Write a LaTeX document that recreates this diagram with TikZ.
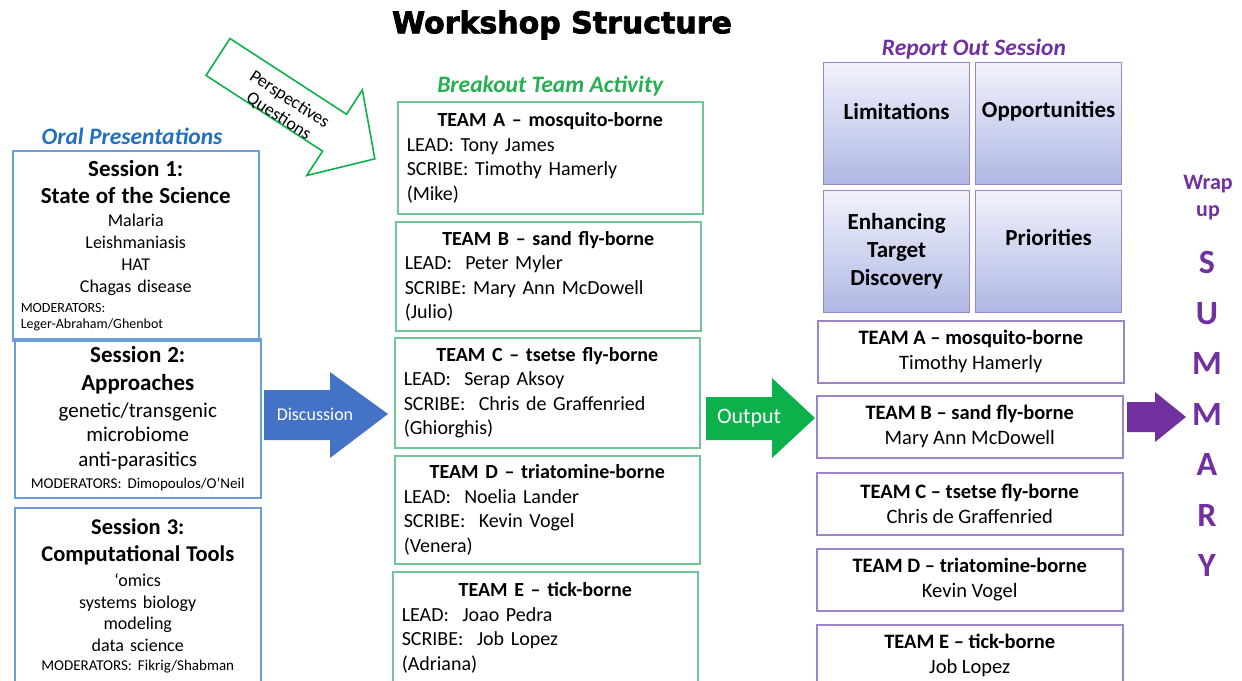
\documentclass[tikz,border=0pt]{standalone}
\usepackage{fontspec}
\setmainfont{Carlito}
\newfontfamily\titlefont[BoldFeatures={FakeBold=2.5}]{DejaVu Sans}
\usetikzlibrary{positioning,calc}
\definecolor{sesblue}{HTML}{6A9FD6}
\definecolor{oralblue}{HTML}{2170C0}
\definecolor{discblue}{HTML}{4472C4}
\definecolor{teamgreen}{HTML}{72C596}
\definecolor{brkgreen}{HTML}{24B050}
\definecolor{outgreen}{HTML}{0DB14B}
\definecolor{rptpurple}{HTML}{7030A0}
\definecolor{rptline}{HTML}{9D85C9}
\definecolor{quadtop}{HTML}{F1F2FB}
\definecolor{quadbot}{HTML}{AEB8E4}
\tikzset{
  sess/.style={draw=sesblue,line width=1.5pt,anchor=north west,inner xsep=5pt,inner ysep=0pt,align=center,text width=236pt,font=\fontsize{18}{22}\selectfont},
  team/.style={draw=teamgreen,line width=1.5pt,anchor=north west,inner xsep=9pt,inner ysep=0pt,align=left,text width=287pt,font=\fontsize{20}{24.5}\selectfont},
  rteam/.style={draw=rptline,line width=1.5pt,anchor=north west,align=center,minimum width=306pt,minimum height=62pt,font=\fontsize{20.5}{25}\selectfont},
  quad/.style={draw=rptline,line width=1.2pt,anchor=north west,top color=quadtop,bottom color=quadbot,minimum width=146pt,minimum height=122pt},
  qtxt/.style={font=\fontsize{23}{28}\selectfont\bfseries,align=center},
  head/.style={font=\fontsize{23.5}{26}\selectfont\bfseries\itshape},
  arrtxt/.style={text=white,font=\fontsize{18}{20}\selectfont},
}
\begin{document}
\begin{tikzpicture}[x=1pt,y=-1pt]
\useasboundingbox (0,0) rectangle (1242,680);
\node[font=\titlefont\bfseries\fontsize{30}{36}\selectfont] (title) at (562,25) {Workshop Structure};

% oral presentations
\node[sess,minimum height=190pt] (s1) at (12,150) {{\fontsize{23}{22}\selectfont\bfseries Session 1:}\\[5pt]
  {\fontsize{23}{22}\selectfont\bfseries State of the Science}\\[1pt]
  Malaria\\Leishmaniasis\\HAT\\Chagas disease\\[-2pt]
  \makebox[\hsize][l]{\hspace{3pt}\fontsize{14}{15}\selectfont MODERATORS:}\\[-6pt]
  \makebox[\hsize][l]{\hspace{3pt}\fontsize{14}{15}\selectfont Leger-Abraham/Ghenbot}};
\node[sess,minimum height=159pt] (s2) at (14,338) {{\fontsize{23}{22}\selectfont\bfseries Session 2:}\\[6pt]
  {\fontsize{23}{22}\selectfont\bfseries Approaches}\\[5pt]
  {\fontsize{21}{22}\selectfont genetic/transgenic}\\[2pt]
  {\fontsize{21}{22}\selectfont microbiome}\\[3pt]
  {\fontsize{21}{22}\selectfont anti-parasitics}\\[0pt]
  {\fontsize{15}{15}\selectfont MODERATORS: Dimopoulos/O’Neil}};
\node[sess,minimum height=177pt] (s3) at (14,507) {{\fontsize{22.5}{22}\selectfont\bfseries Session 3:}\\[5pt]
  {\fontsize{22.5}{22}\selectfont\bfseries Computational Tools}\\[3pt]
  ‘omics\\[0pt]systems biology\\[-1pt]modeling\\[0pt]data science\\[-3pt]
  {\fontsize{15}{15}\selectfont MODERATORS: Fikrig/Shabman}};
\node[head,text=oralblue] (oral) at (132,136) {Oral Presentations};

% breakout teams
\node[team,minimum height=112pt] (ta) at (397,101) {\makebox[\hsize]{\bfseries TEAM A – mosquito-borne}\\LEAD: Tony James\\SCRIBE: Timothy Hamerly\\(Mike)};
\node[team,minimum height=109pt] (tb) at (395,221) {\makebox[\hsize]{\bfseries TEAM B – sand fly-borne}\\LEAD:\ \ Peter Myler\\SCRIBE: Mary Ann McDowell\\(Julio)};
\node[team,minimum height=110pt] (tc) at (394,337) {\makebox[\hsize]{\bfseries TEAM C – tsetse fly-borne}\\LEAD:\ \ Serap Aksoy\\SCRIBE:\ \ Chris de Graffenried\\(Ghiorghis)};
\node[team,minimum height=108pt] (td) at (394,455) {\makebox[\hsize]{\bfseries TEAM D – triatomine-borne}\\LEAD:\ \ Noelia Lander\\SCRIBE:\ \ Kevin Vogel\\(Venera)};
\node[team,minimum height=112pt] (te) at (392,571) {\makebox[\hsize]{\bfseries TEAM E – tick-borne}\\LEAD:\ \ Joao Pedra\\SCRIBE:\ \ Job Lopez\\(Adriana)};
\node[head,text=brkgreen,above=1pt of ta] (brk) {Breakout Team Activity};

% report out
\node[quad] (lim) at (823,62) {};
\node[quad] (opp) at (975,62) {};
\node[quad] (enh) at (823,190) {};
\node[quad] (pri) at (975,190) {};
\node[qtxt,yshift=12pt] (limt) at (lim.center) {Limitations};
\node[qtxt,yshift=12pt] (oppt) at (opp.center) {Opportunities};
\node[qtxt] (enht) at (enh.center) {Enhancing\\Target\\Discovery};
\node[qtxt,yshift=14pt] (prit) at (pri.center) {Priorities};
\node[head,text=rptpurple] (rpt) at (974,49) {Report Out Session};

\node[rteam] (ra) at (817,320) {\textbf{TEAM A – mosquito-borne}\\Timothy Hamerly};
\node[rteam] (rb) at (816,395) {\textbf{TEAM B – sand fly-borne}\\Mary Ann McDowell};
\node[rteam] (rc) at (816,472) {\textbf{TEAM C – tsetse fly-borne}\\Chris de Graffenried};
\node[rteam] (rd) at (816,548) {\textbf{TEAM D – triatomine-borne}\\Kevin Vogel};
\node[rteam] (re) at (816,624) {\textbf{TEAM E – tick-borne}\\Job Lopez};

% block arrows
\begin{scope}[shift={(218,57)},rotate=-33]
  \draw[draw=outgreen,line width=1.6pt,fill=white,line join=miter] (0,-22) -- (139,-22) -- (139,-51) -- (187,0) -- (139,51) -- (139,22) -- (0,22) -- cycle;
\end{scope}
\node[rotate=-33,align=center,font=\fontsize{18}{20}\selectfont] (persp) at (284,108) {Perspectives\\Questions};
\fill[discblue] (264,390) -- (330,390) -- (330,372) -- (388,414) -- (330,458) -- (330,440) -- (264,440) -- cycle;
\node[arrtxt] (disc) at (315,414) {Discussion};
\fill[outgreen] (706,397) -- (772,397) -- (772,378) -- (815,418) -- (772,458) -- (772,440) -- (706,440) -- cycle;
\node[arrtxt,font=\fontsize{22}{24}\selectfont] (outp) at (749,418) {Output};
\fill[rptpurple] (1127,402) -- (1155,402) -- (1155,392) -- (1186,417) -- (1155,442) -- (1155,432) -- (1127,432) -- cycle;

% wrap up
\node[text=rptpurple,align=center,font=\fontsize{22}{27}\selectfont\bfseries] (wrap) at (1208,198) {Wrap\\up};
\node[text=rptpurple,align=center,font=\fontsize{34}{50.5}\selectfont\bfseries] (summ) at (1207,414) {S\\U\\M\\M\\A\\R\\Y};
\end{tikzpicture}
\end{document}
